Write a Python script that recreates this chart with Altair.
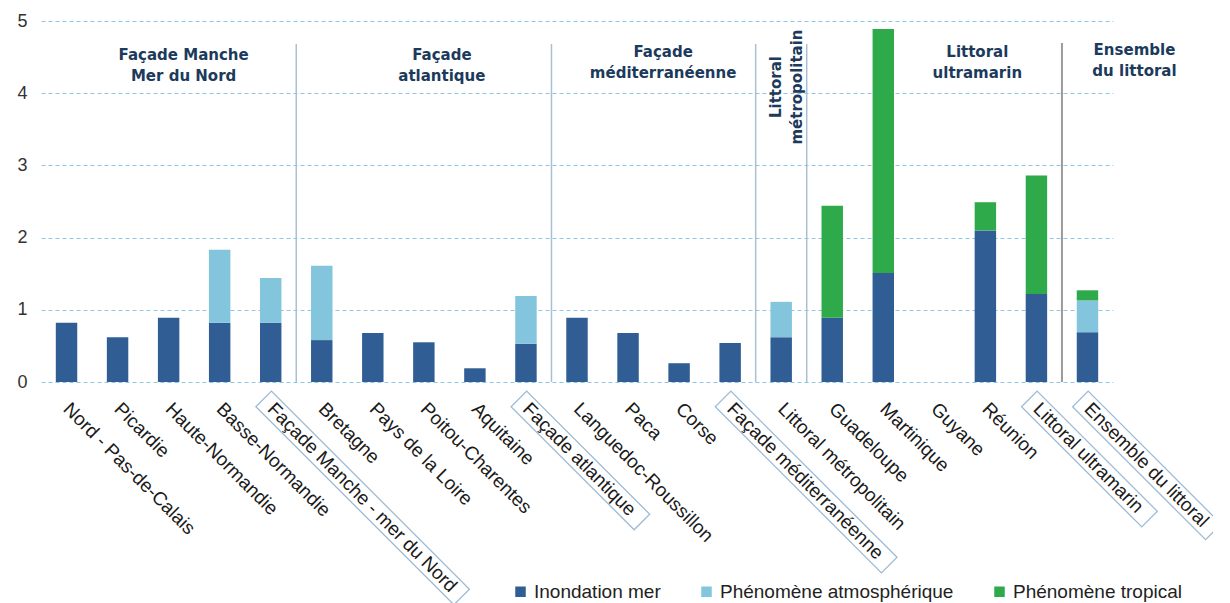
import altair as alt
import pandas as pd

categories = [
    "Nord - Pas-de-Calais", "Picardie", "Haute-Normandie", "Basse-Normandie",
    "Façade Manche - mer du Nord", "Bretagne", "Pays de la Loire",
    "Poitou-Charentes", "Aquitaine", "Façade atlantique",
    "Languedoc-Roussillon", "Paca", "Corse", "Façade méditerranéenne",
    "Littoral métropolitain", "Guadeloupe", "Martinique", "Guyane", "Réunion",
    "Littoral ultramarin", "Ensemble du littoral",
]
inondation = [0.82, 0.62, 0.89, 0.82, 0.82, 0.58, 0.68, 0.55, 0.19, 0.53,
              0.89, 0.68, 0.26, 0.54, 0.62, 0.89, 1.51, 0.0, 2.10, 1.22, 0.69]
atmospherique = [0.0, 0.0, 0.0, 1.01, 0.62, 1.03, 0.0, 0.0, 0.0, 0.66,
                 0.0, 0.0, 0.0, 0.0, 0.49, 0.0, 0.0, 0.0, 0.0, 0.0, 0.44]
tropical = [0.0, 0.0, 0.0, 0.0, 0.0, 0.0, 0.0, 0.0, 0.0, 0.0,
            0.0, 0.0, 0.0, 0.0, 0.0, 1.55, 3.38, 0.0, 0.39, 1.64, 0.14]
series = ["Inondation mer", "Phénomène atmosphérique", "Phénomène tropical"]
colors = ["#2f5d94", "#82c5dc", "#2eaa4a"]
boxed = ["Façade Manche - mer du Nord", "Façade atlantique",
         "Façade méditerranéenne", "Littoral ultramarin", "Ensemble du littoral"]
sep_light = ["Bretagne", "Languedoc-Roussillon", "Littoral métropolitain", "Guadeloupe"]
sep_dark = ["Ensemble du littoral"]

W, H = 1072, 361
FONT = "Liberation Sans"
TFONT = "DejaVu Sans"
LABEL_SIZE = 19
LABEL_Y = H + 24


def text_width(s, size):
    w = 0.0
    for ch in s:
        if ch in "iljI":
            w += 0.24
        elif ch in "ft ":
            w += 0.278
        elif ch in "r-":
            w += 0.333
        elif ch in "mM":
            w += 0.833
        elif ch in "ckvxyzs":
            w += 0.5
        elif ch.isupper():
            w += 0.68
        else:
            w += 0.556
    return w * size


rows = []
for i, c in enumerate(categories):
    for k, (s, vals) in enumerate(zip(series, [inondation, atmospherique, tropical])):
        rows.append({"cat": c, "series": s, "val": vals[i], "ord": k})
df = pd.DataFrame(rows)

xscale = alt.Scale(domain=categories, paddingInner=0, paddingOuter=0)
x_plain = alt.X("cat:N", scale=xscale, axis=None)

bars = alt.Chart(df).mark_bar(width=alt.RelativeBandSize(0.42)).encode(
    x=alt.X("cat:N", scale=xscale,
            axis=alt.Axis(title=None, labels=False, ticks=True, tickBand="extent",
                          tickSize=6, tickColor="black", tickWidth=1.3,
                          domainColor="black", domainWidth=1.5, grid=False)),
    y=alt.Y("val:Q", stack="zero", scale=alt.Scale(domain=[0, 5], nice=False),
            axis=alt.Axis(title=None, values=[0, 1, 2, 3, 4, 5], grid=True,
                          gridDash=[4, 3], gridColor="#8ec4e6", gridWidth=1,
                          domain=False, ticks=False, labelFontSize=18,
                          labelFont=FONT, labelColor="#333333", labelPadding=14)),
    color=alt.Color("series:N", scale=alt.Scale(domain=series, range=colors),
                    legend=alt.Legend(title=None, orient="none", direction="horizontal",
                                      legendX=470, legendY=561, symbolType="square",
                                      symbolSize=110, symbolStrokeWidth=0,
                                      labelFontSize=19, labelFont=FONT,
                                      labelColor="#222222", columnPadding=36,
                                      labelOffset=4, labelLimit=0)),
    order=alt.Order("ord:Q"),
)

seps1 = alt.Chart(pd.DataFrame({"cat": sep_light})).mark_rule(
    color="#a9c0d4", strokeWidth=1.5).encode(
    x=alt.X("cat:N", scale=xscale, axis=None, bandPosition=0),
    y=alt.value(23), y2=alt.value(H))
seps2 = alt.Chart(pd.DataFrame({"cat": sep_dark})).mark_rule(
    color="#9a9a9a", strokeWidth=2).encode(
    x=alt.X("cat:N", scale=xscale, axis=None, bandPosition=0),
    y=alt.value(22), y2=alt.value(H))

lab_df = pd.DataFrame({"cat": categories})
labels = alt.Chart(lab_df).mark_text(
    angle=45, align="left", baseline="middle", fontSize=LABEL_SIZE, font=FONT,
    color="#1a1a1a").encode(x=x_plain, y=alt.value(LABEL_Y), text="cat:N")

boxes = []
for b in boxed:
    L = text_width(b, LABEL_SIZE) + 10
    path = f"M-10,-11L{L:.0f},-11L{L:.0f},11L-10,11Z"
    boxes.append(
        alt.Chart(pd.DataFrame({"cat": [b]})).mark_point(
            shape=path, size=4, angle=45, filled=False, stroke="#9dbbd6",
            strokeWidth=1.3, opacity=1).encode(x=x_plain, y=alt.value(LABEL_Y))
    )


def title(text, cat, dx, y, angle=0, dy=0):
    return alt.Chart(pd.DataFrame({"cat": [cat]})).mark_text(
        text=text, lineBreak="\n", align="center", baseline="middle",
        font=TFONT, fontWeight="bold", fontSize=15, lineHeight=21,
        color="#1b3a5c", dx=dx, dy=dy, angle=angle).encode(x=x_plain, y=alt.value(y))


titles = [
    title("Façade Manche\nMer du Nord", "Haute-Normandie", 15, 34),
    title("Façade\natlantique", "Poitou-Charentes", 18, 34),
    title("Façade\nméditerranéenne", "Corse", -16, 31),
    title("Littoral\nmétropolitain", "Littoral métropolitain", 0, 66, 270, -5),
    title("Littoral\nultramarin", "Guyane", 43, 31),
    title("Ensemble\ndu littoral", "Ensemble du littoral", 47, 29),
]

chart = alt.layer(bars, seps1, seps2, labels, *boxes, *titles).properties(
    width=W, height=H,
    autosize=alt.AutoSizeParams(type="none"),
    padding={"left": 33, "top": 13, "right": 100, "bottom": 221},
).configure_view(stroke=None)

chart.save("out.html", embed_options={"renderer": "svg", "actions": False})
